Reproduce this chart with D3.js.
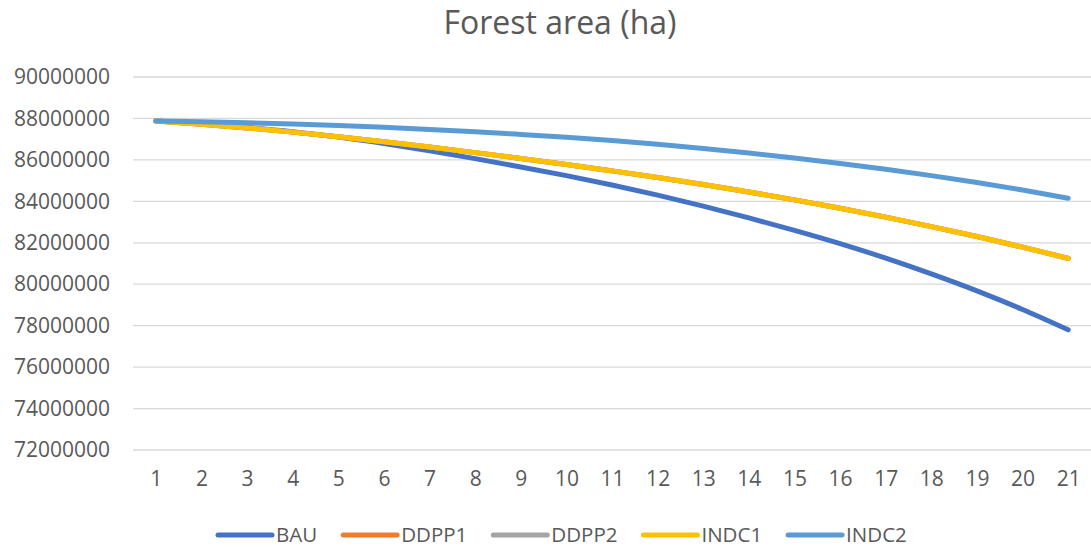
<!DOCTYPE html>
<html>
<head>
<meta charset="utf-8">
<script src="https://cdn.jsdelivr.net/npm/d3@7"></script>
<style>
  html, body { margin: 0; padding: 0; background: #fff; }
  svg { display: block; }
  text { font-family: "Open Sans", "Liberation Sans", sans-serif; fill: #595959; }
</style>
</head>
<body>
<svg id="chart" width="1091" height="547"></svg>
<script>
const title = "Forest area (ha)";
const categories = d3.range(1, 22).map(String);
const yTicks = [72000000, 74000000, 76000000, 78000000, 80000000, 82000000, 84000000, 86000000, 88000000, 90000000];
const seriesNames = ["BAU", "DDPP1", "DDPP2", "INDC1", "INDC2"];
const colors = ["#4472C4", "#ED7D31", "#A5A5A5", "#FFC000", "#5B9BD5"];

const BAU   = [87880000, 87740000, 87570000, 87360000, 87100000, 86790000, 86440000, 86060000, 85660000, 85240000, 84790000, 84300000, 83770000, 83200000, 82600000, 81960000, 81260000, 80500000, 79680000, 78780000, 77800000];
const DDPP1 = [87880000, 87720000, 87540000, 87340000, 87120000, 86880000, 86620000, 86350000, 86070000, 85780000, 85470000, 85150000, 84810000, 84450000, 84070000, 83670000, 83240000, 82780000, 82300000, 81790000, 81250000];
const DDPP2 = [87880000, 87720000, 87540000, 87340000, 87120000, 86880000, 86620000, 86350000, 86070000, 85780000, 85470000, 85150000, 84810000, 84450000, 84070000, 83670000, 83240000, 82780000, 82300000, 81790000, 81250000];
const INDC1 = [87880000, 87720000, 87540000, 87340000, 87120000, 86880000, 86620000, 86350000, 86070000, 85780000, 85470000, 85150000, 84810000, 84450000, 84070000, 83670000, 83240000, 82780000, 82300000, 81790000, 81250000];
const INDC2 = [87880000, 87840000, 87790000, 87730000, 87660000, 87570000, 87470000, 87360000, 87230000, 87090000, 86930000, 86750000, 86550000, 86330000, 86090000, 85830000, 85550000, 85240000, 84910000, 84550000, 84150000];

const seriesValues = [BAU, DDPP1, DDPP2, INDC1, INDC2];

const svg = d3.select("#chart");
const plot = { left: 133, right: 1091, top: 77, bottom: 450 };

const x = d3.scalePoint().domain(categories).range([plot.left, plot.right]).padding(0.5);
const y = d3.scaleLinear().domain([72000000, 90000000]).range([plot.bottom, plot.top]);

// title
svg.append("text")
  .attr("x", 560).attr("y", 34)
  .attr("text-anchor", "middle")
  .style("font-size", "32px")
  .text(title);

// gridlines
svg.append("g").selectAll("line").data(yTicks).join("line")
  .attr("x1", plot.left).attr("x2", plot.right)
  .attr("y1", d => y(d)).attr("y2", d => y(d))
  .attr("stroke", "#d9d9d9").attr("stroke-width", 1.3);

// y axis labels
const yAxis = d3.axisLeft(y).tickValues(yTicks).tickFormat(d3.format("d")).tickSize(0).tickPadding(0);
const gy = svg.append("g").attr("transform", `translate(110,0)`).call(yAxis);
gy.select(".domain").remove();
gy.selectAll("text").style("font-size", "21px").attr("fill", "#595959").style("font-family", "'Open Sans', sans-serif");

// x axis labels
const xAxis = d3.axisBottom(x).tickSize(0).tickPadding(0);
const gx = svg.append("g").attr("transform", `translate(0,${plot.bottom + 21})`).call(xAxis);
gx.select(".domain").remove();
gx.selectAll("text").style("font-size", "21px").attr("fill", "#595959").style("font-family", "'Open Sans', sans-serif");

// lines
const line = d3.line()
  .x((d, i) => x(categories[i]))
  .y(d => y(d))
  .curve(d3.curveMonotoneX);

svg.append("g").selectAll("path").data(seriesValues).join("path")
  .attr("d", d => line(d))
  .attr("fill", "none")
  .attr("stroke", (d, i) => colors[i])
  .attr("stroke-width", 5)
  .attr("stroke-linecap", "round")
  .attr("stroke-linejoin", "round");

// legend
const legend = svg.append("g");
let lx = 218;
const ly = 535;
seriesNames.forEach((name, i) => {
  const g = legend.append("g");
  g.append("line")
    .attr("x1", lx).attr("x2", lx + 54)
    .attr("y1", ly).attr("y2", ly)
    .attr("stroke", colors[i]).attr("stroke-width", 5).attr("stroke-linecap", "round");
  const t = g.append("text")
    .attr("x", lx + 58).attr("y", ly + 7)
    .style("font-size", "20.5px")
    .text(name);
  const w = t.node().getComputedTextLength();
  lx = lx + 58 + w + 26;
});
</script>
</body>
</html>
